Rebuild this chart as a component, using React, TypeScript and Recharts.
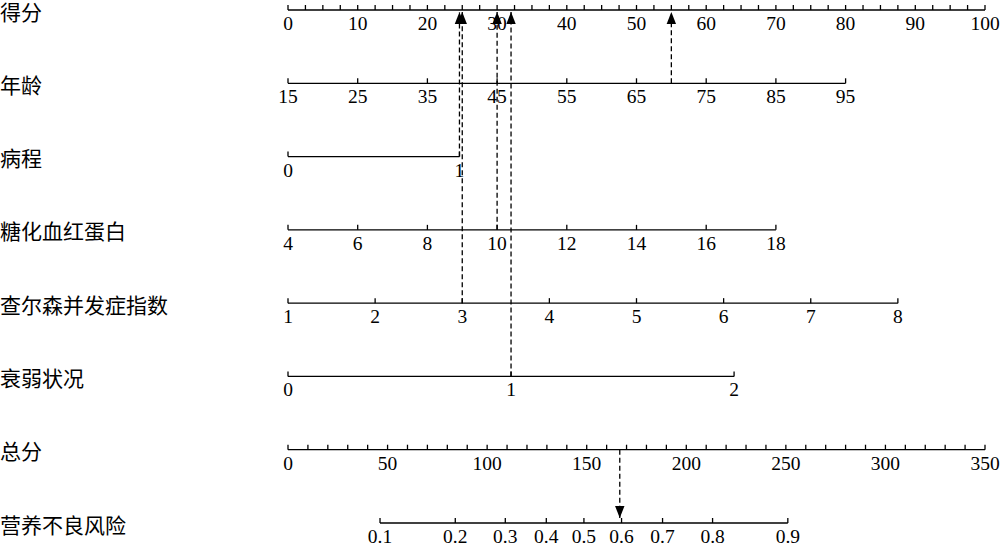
import React from 'react';
import { LineChart, Line, XAxis, YAxis } from 'recharts';

// row names, top to bottom
const rowLabels = ['得分', '年龄', '病程', '糖化血红蛋白', '查尔森并发症指数', '衰弱状况', '总分', '营养不良风险'];

// tick labels of each scale
const pointsMajor = [0, 10, 20, 30, 40, 50, 60, 70, 80, 90, 100];
const pointsMinorStep = 2.5;
const ageTicks = [15, 25, 35, 45, 55, 65, 75, 85, 95];
const courseTicks = [0, 1];
const hba1cTicks = [4, 6, 8, 10, 12, 14, 16, 18];
const cciTicks = [1, 2, 3, 4, 5, 6, 7, 8];
const frailtyTicks = [0, 1, 2];
const totalMajor = [0, 50, 100, 150, 200, 250, 300, 350];
const totalMinorStep = 10;
const riskTicks = [0.1, 0.2, 0.3, 0.4, 0.5, 0.6, 0.7, 0.8, 0.9];

// nomogram model (points per unit)
const varIds = ['age', 'course', 'hba1c', 'cci', 'frailty'];
const varStart = [15, 0, 4, 1, 0];
const varPointsPerUnit = [1, 24.6, 5, 12.5, 32];
const varTicks = [ageTicks, courseTicks, hba1cTicks, cciTicks, frailtyTicks];
const riskMidTotal = 148.6; // total points at p = 0.5
const riskTotalPerLogit = 46.6;

// example patient
const patientValues = [70, 1, 10, 3, 1];

const SERIF = '"Liberation Serif", "Times New Roman", serif';
const CJK = '"Noto Sans CJK SC", sans-serif';
const INK = '#000';

function buildRow(major: number[], row: number, minorStep?: number) {
  const out: { v: number; r: number; label: string }[] = [];
  if (minorStep) {
    const lo = major[0];
    const hi = major[major.length - 1];
    for (let v = lo; v <= hi + 1e-9; v += minorStep) {
      const isMajor = major.some((m) => Math.abs(m - v) < 1e-9);
      out.push({ v, r: row, label: isMajor ? String(v) : '' });
    }
  } else {
    major.forEach((m) => out.push({ v: m, r: row, label: String(m) }));
  }
  return out;
}

const pointsRow = buildRow(pointsMajor, 0, pointsMinorStep);
const varRows = varTicks.map((t, i) => buildRow(t, i + 1));
const totalRow = buildRow(totalMajor, 6, totalMinorStep);
const riskRow = riskTicks.map((p) => ({
  v: riskMidTotal + riskTotalPerLogit * Math.log(p / (1 - p)),
  r: 7,
  label: String(p),
}));

const patientTotal = patientValues.reduce(
  (s, val, i) => s + (val - varStart[i]) * varPointsPerUnit[i],
  0
);

const TickDot = (props: any) => {
  const { cx, cy, payload, index } = props;
  return (
    <g key={`t-${payload.r}-${index}`}>
      <line x1={cx} x2={cx} y1={cy} y2={cy - 5} stroke={INK} strokeWidth={1.3} />
      {payload.label !== '' && (
        <text x={cx} y={cy + 20} textAnchor="middle" fontSize={19.5} fontFamily={SERIF} fill={INK}>
          {payload.label}
        </text>
      )}
    </g>
  );
};

const arrowDot = (dir: 'up' | 'down') => (props: any) => {
  const { cx, cy, index } = props;
  if (index !== 1) return <g key={`a-${index}`} />;
  const d = dir === 'up' ? 12 : -12;
  return (
    <polygon
      key={`a-${index}`}
      points={`${cx},${cy} ${cx - 4.7},${cy + d} ${cx + 4.7},${cy + d}`}
      fill={INK}
    />
  );
};

const RowLabel = (props: any) => {
  const { y, payload } = props;
  return (
    <text x={0} y={y + 9.5} fontSize={21} fontFamily={CJK} fill={INK}>
      {rowLabels[payload.value]}
    </text>
  );
};

export default function App() {
  const topTip = 0.027;
  const bottomTip = 7 - 0.068;
  return (
    <div style={{ position: 'absolute', left: 0, top: 0, background: '#fff' }}>
      <LineChart width={1000} height={549} margin={{ top: 10, right: 15, bottom: 26, left: 0 }}>
        <YAxis
          type="number"
          dataKey="r"
          domain={[0, 7]}
          reversed
          ticks={[0, 1, 2, 3, 4, 5, 6, 7]}
          interval={0}
          width={288}
          axisLine={false}
          tickLine={false}
          tick={RowLabel}
        />
        <XAxis xAxisId="points" type="number" dataKey="v" domain={[0, 100]} hide />
        {varIds.map((id, i) => (
          <XAxis
            key={id}
            xAxisId={id}
            type="number"
            dataKey="v"
            domain={[varStart[i], varStart[i] + 100 / varPointsPerUnit[i]]}
            hide
          />
        ))}
        <XAxis xAxisId="total" type="number" dataKey="v" domain={[0, 350]} hide />

        <Line
          xAxisId="points"
          data={pointsRow}
          dataKey="r"
          stroke={INK}
          strokeWidth={1.3}
          dot={TickDot}
          activeDot={false}
          isAnimationActive={false}
        />
        {varIds.map((id, i) => (
          <Line
            key={`row-${id}`}
            xAxisId={id}
            data={varRows[i]}
            dataKey="r"
            stroke={INK}
            strokeWidth={1.3}
            dot={TickDot}
            activeDot={false}
            isAnimationActive={false}
          />
        ))}
        <Line
          xAxisId="total"
          data={totalRow}
          dataKey="r"
          stroke={INK}
          strokeWidth={1.3}
          dot={TickDot}
          activeDot={false}
          isAnimationActive={false}
        />
        <Line
          xAxisId="total"
          data={riskRow}
          dataKey="r"
          stroke={INK}
          strokeWidth={1.3}
          dot={TickDot}
          activeDot={false}
          isAnimationActive={false}
        />

        {/* example patient: value -> points */}
        {varIds.map((id, i) => (
          <Line
            key={`pt-${id}`}
            xAxisId={id}
            data={[
              { v: patientValues[i], r: i + 1 },
              { v: patientValues[i], r: topTip },
            ]}
            dataKey="r"
            stroke={INK}
            strokeWidth={1.3}
            strokeDasharray="5 3"
            dot={arrowDot('up')}
            activeDot={false}
            isAnimationActive={false}
          />
        ))}
        {/* total points -> risk */}
        <Line
          xAxisId="total"
          data={[
            { v: patientTotal, r: 6 },
            { v: patientTotal, r: bottomTip },
          ]}
          dataKey="r"
          stroke={INK}
          strokeWidth={1.3}
          strokeDasharray="5 3"
          dot={arrowDot('down')}
          activeDot={false}
          isAnimationActive={false}
        />
      </LineChart>
    </div>
  );
}
